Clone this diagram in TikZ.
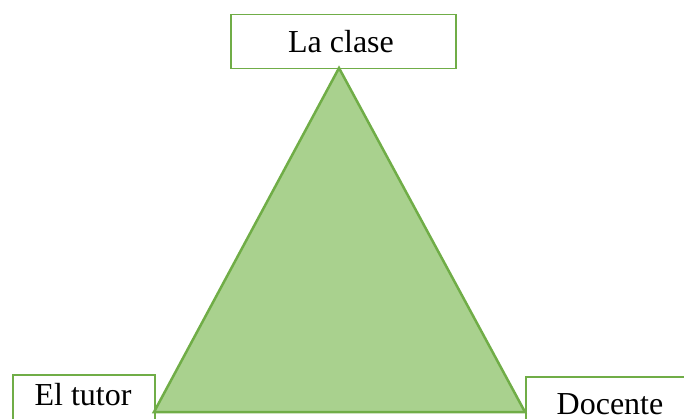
\documentclass[tikz,border=0pt]{standalone}
\usepackage{fontspec}
\setmainfont{Liberation Serif}
\definecolor{leafgreen}{HTML}{70AD47}
\definecolor{palegreen}{HTML}{A9D18E}
\tikzset{
  box/.style={draw=leafgreen, line width=1.5pt, fill=white, inner sep=0pt, anchor=north west},
  lbl/.style={font=\fontsize{32}{38}\selectfont, inner sep=0pt, anchor=base}
}
\begin{document}
\begin{tikzpicture}[x=1pt, y=-1pt]
  \useasboundingbox (0,0) rectangle (684,419);
  \clip (0,0) rectangle (684,419);
  % the three boxes
  \node[box, minimum width=225pt, minimum height=54pt] (clasebox) at (230,14) {};
  \node[box, minimum width=142pt, minimum height=70pt] (tutorbox) at (12,374) {};
  \node[box, minimum width=180pt, minimum height=70pt] (docentebox) at (525,376) {};
  % the triangle
  \coordinate (apex) at (339,68);
  \coordinate (left) at (154,412);
  \coordinate (right) at (525,412);
  \draw[draw=leafgreen, fill=palegreen, line width=2.5pt, line join=miter] (apex) -- (left) -- (right) -- cycle;
  % labels
  \node[lbl] (clase) at (341,53) {La clase};
  \node[lbl] (tutor) at (83,405) {El tutor};
  \node[lbl] (docente) at (610,414) {Docente};
\end{tikzpicture}
\end{document}
